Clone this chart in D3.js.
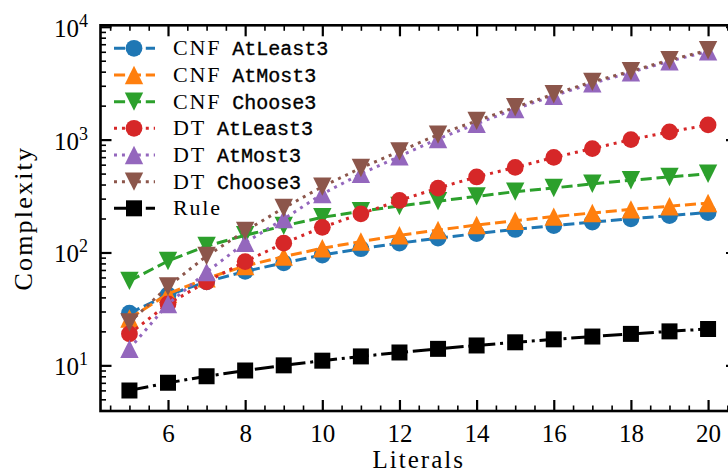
<!DOCTYPE html>
<html>
<head>
<meta charset="utf-8">
<script src="https://cdn.jsdelivr.net/npm/d3@7/dist/d3.min.js"></script>
<style>
body { margin: 0; background: #fff; }
svg { display: block; }
</style>
</head>
<body>
<div id="chart"></div>
<script>
// values
const literals = [5, 6, 7, 8, 9, 10, 11, 12, 13, 14, 15, 16, 17, 18, 19, 20];
const cnfAtLeast3 = [29, 42, 55, 68, 81, 95, 108, 121, 134, 147, 160, 173, 186, 199, 212, 226];
const cnfAtMost3 = [26, 43, 59, 76, 92, 109, 125, 142, 158, 175, 191, 208, 224, 241, 257, 274];
const cnfChoose3 = [56, 84, 114, 142, 172, 205, 232, 258, 285, 314, 346, 373, 406, 436, 467, 498];
const dtAtLeast3 = [19, 35, 55, 83, 121, 167, 220, 289, 372, 467, 567, 696, 832, 1000, 1170, 1350];
const dtAtMost3 = [14, 35, 67, 122, 198, 330, 497, 711, 1014, 1380, 1870, 2450, 3150, 3950, 4950, 6050];
const dtChoose3 = [24, 50, 93, 155, 248, 383, 561, 787, 1107, 1465, 1935, 2525, 3250, 4035, 5060, 6190];
const rule = [6, 7, 8, 9, 10, 11, 12, 13, 14, 15, 16, 17, 18, 19, 20, 21];

const xTicks = [6, 8, 10, 12, 14, 16, 18, 20];
const yTickExponents = [1, 2, 3, 4];
const xLabel = "Literals", yLabel = "Complexity";

const width = 728, height = 473;
const plotLeft = 100.5, plotRight = 737, plotTop = 25.3, plotBottom = 411;

const x = d3.scaleLinear().domain([4.25, 20.75]).range([plotLeft, plotRight]);
const y = d3.scaleLog().domain([3.94, 10300]).range([plotBottom, plotTop]);

const series = [
    {name: "CNF", kind: "AtLeast3", values: cnfAtLeast3, color: "#1f77b4", dash: "11.1,4.8", marker: "circle"},
    {name: "CNF", kind: "AtMost3", values: cnfAtMost3, color: "#ff7f0e", dash: "11.1,4.8", marker: "up"},
    {name: "CNF", kind: "Choose3", values: cnfChoose3, color: "#2ca02c", dash: "11.1,4.8", marker: "down"},
    {name: "DT", kind: "AtLeast3", values: dtAtLeast3, color: "#d62728", dash: "3,4.95", marker: "circle"},
    {name: "DT", kind: "AtMost3", values: dtAtMost3, color: "#9467bd", dash: "3,4.95", marker: "up"},
    {name: "DT", kind: "Choose3", values: dtChoose3, color: "#8c564b", dash: "3,4.95", marker: "down"},
    {name: "Rule", kind: "", values: rule, color: "#000000", dash: "19.2,4.8,3,4.8", marker: "square"}
];

function markerPath(kind) {
    const h = 9.2;
    if (kind === "circle") return d3.symbol(d3.symbolCircle, Math.PI * 8.4 * 8.4)();
    if (kind === "square") return d3.symbol(d3.symbolSquare, 16 * 16)();
    if (kind === "up") return "M0," + (-h) + "L" + h + "," + h + "L" + (-h) + "," + h + "Z";
    return "M0," + h + "L" + h + "," + (-h) + "L" + (-h) + "," + (-h) + "Z";
}

const svg = d3.select("#chart")
    .append("svg")
    .attr("width", width)
    .attr("height", height);

svg.append("clipPath").attr("id", "clip")
    .append("rect")
    .attr("x", plotLeft).attr("y", plotTop)
    .attr("width", plotRight - plotLeft).attr("height", plotBottom - plotTop);

const plot = svg.append("g").attr("clip-path", "url(#clip)");

const line = d3.line()
    .x(function(d) { return x(d[0]); })
    .y(function(d) { return y(d[1]); });

series.forEach(function(s) {
    const pts = literals.map(function(l, i) { return [l, s.values[i]]; });
    plot.append("path")
        .datum(pts)
        .attr("d", line)
        .attr("fill", "none")
        .attr("stroke", s.color)
        .attr("stroke-width", 3)
        .attr("stroke-dasharray", s.dash);
    plot.selectAll(null)
        .data(pts)
        .enter().append("path")
        .attr("transform", function(d) { return "translate(" + x(d[0]) + "," + y(d[1]) + ")"; })
        .attr("d", markerPath(s.marker))
        .attr("fill", s.color);
});

// minor ticks
const xMinor = d3.range(4.5, 20.75, 0.5).filter(function(v) { return v % 2 !== 0; });
const yMinor = [];
[1, 10, 100, 1000].forEach(function(p) {
    d3.range(2, 10).forEach(function(m) { if (m * p >= 3.94) yMinor.push(m * p); });
});
const yMajor = yTickExponents.map(function(e) { return Math.pow(10, e); });

function styleAxis(g, w) {
    g.select(".domain").remove();
    g.selectAll(".tick line").attr("stroke", "#000").attr("stroke-width", w);
}

svg.append("g").attr("transform", "translate(0," + plotBottom + ")")
    .call(d3.axisBottom(x).tickValues(xMinor).tickSizeInner(-5.5).tickSizeOuter(0).tickFormat(""))
    .call(styleAxis, 1.6);
svg.append("g").attr("transform", "translate(0," + plotTop + ")")
    .call(d3.axisTop(x).tickValues(xMinor).tickSizeInner(-5.5).tickSizeOuter(0).tickFormat(""))
    .call(styleAxis, 1.6);
svg.append("g").attr("transform", "translate(0," + plotTop + ")")
    .call(d3.axisTop(x).tickValues(xTicks).tickSizeInner(-11).tickSizeOuter(0).tickFormat(""))
    .call(styleAxis, 2.2);

const xAxis = svg.append("g").attr("transform", "translate(0," + plotBottom + ")")
    .call(d3.axisBottom(x).tickValues(xTicks).tickSizeInner(-11).tickSizeOuter(0).tickPadding(13.5).tickFormat(d3.format("d")))
    .call(styleAxis, 2.2);
xAxis.selectAll(".tick text")
    .attr("fill", "#000")
    .style("font-family", "'Liberation Serif', serif")
    .style("font-size", "25px");

svg.append("g").attr("transform", "translate(" + plotLeft + ",0)")
    .call(d3.axisLeft(y).tickValues(yMinor).tickSizeInner(-5.5).tickSizeOuter(0).tickFormat(""))
    .call(styleAxis, 1.6);
svg.append("g").attr("transform", "translate(" + plotRight + ",0)")
    .call(d3.axisRight(y).tickValues(yMinor).tickSizeInner(-5.5).tickSizeOuter(0).tickFormat(""))
    .call(styleAxis, 1.6);
svg.append("g").attr("transform", "translate(" + plotRight + ",0)")
    .call(d3.axisRight(y).tickValues(yMajor).tickSizeInner(-11).tickSizeOuter(0).tickFormat(""))
    .call(styleAxis, 2.2);

const yAxis = svg.append("g").attr("transform", "translate(" + plotLeft + ",0)")
    .call(d3.axisLeft(y).tickValues(yMajor).tickSizeInner(-11).tickSizeOuter(0).tickFormat(""))
    .call(styleAxis, 2.2);
yAxis.selectAll(".tick text").remove();
const yText = yAxis.selectAll(".tick").append("text")
    .attr("x", -12.5)
    .attr("y", 9.5)
    .attr("text-anchor", "end")
    .attr("fill", "#000")
    .style("font-family", "'Liberation Serif', serif")
    .style("font-size", "25px");
yText.append("tspan").text("10");
yText.append("tspan")
    .attr("dy", -10)
    .style("font-size", "18px")
    .text(function(d) { return Math.round(Math.log10(d)); });

// spines
svg.append("rect")
    .attr("x", plotLeft).attr("y", plotTop)
    .attr("width", plotRight - plotLeft).attr("height", plotBottom - plotTop)
    .attr("fill", "none")
    .attr("stroke", "#000")
    .attr("stroke-width", 2.6);

svg.append("text")
    .attr("x", (plotLeft + plotRight) / 2)
    .attr("y", 468)
    .attr("text-anchor", "middle")
    .style("font-family", "'Liberation Serif', serif")
    .style("font-size", "25px")
    .style("letter-spacing", "2px")
    .text(xLabel);

svg.append("text")
    .attr("transform", "translate(32," + ((plotTop + plotBottom) / 2) + ") rotate(-90)")
    .attr("text-anchor", "middle")
    .style("font-family", "'Liberation Serif', serif")
    .style("font-size", "26px")
    .style("letter-spacing", "2.2px")
    .text(yLabel);

// legend, no frame
const legend = svg.append("g");
const item = legend.selectAll(".item")
    .data(series)
    .enter().append("g")
    .attr("class", "item")
    .attr("transform", function(d, i) { return "translate(0," + (48.3 + i * 26.67) + ")"; });

item.append("line")
    .attr("x1", 114).attr("x2", 155)
    .attr("stroke", function(d) { return d.color; })
    .attr("stroke-width", 3)
    .attr("stroke-dasharray", function(d) { return d.dash; });
item.append("path")
    .attr("transform", "translate(134,0)")
    .attr("d", function(d) { return markerPath(d.marker); })
    .attr("fill", function(d) { return d.color; });

const label = item.append("text")
    .attr("x", 173)
    .attr("y", 7)
    .attr("fill", "#000");
label.append("tspan")
    .style("font-family", "'Liberation Serif', serif")
    .style("font-size", "22px")
    .style("letter-spacing", "1.8px")
    .text(function(d) { return d.name; });
label.append("tspan")
    .attr("dx", 11)
    .style("font-family", "'Liberation Mono', monospace")
    .style("font-size", "20px")
    .style("stroke", "#000")
    .style("stroke-width", 0.35)
    .text(function(d) { return d.kind; });
</script>
</body>
</html>
